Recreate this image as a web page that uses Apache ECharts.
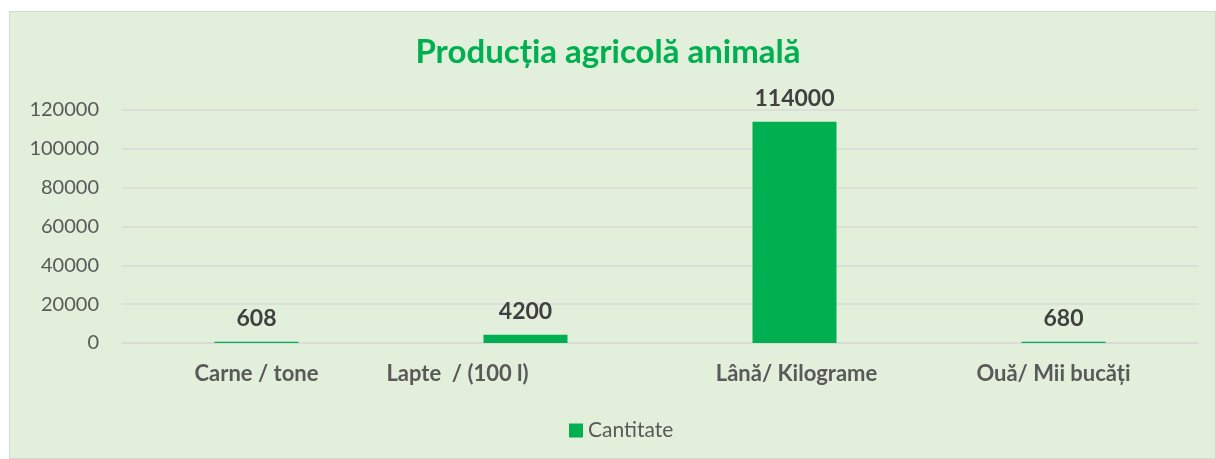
<!DOCTYPE html>
<html>
<head>
<meta charset="utf-8">
<script src="https://cdn.jsdelivr.net/npm/echarts@6/dist/echarts.min.js"></script>
<style>
  html, body { margin: 0; padding: 0; background: #ffffff; }
  #frame { position: absolute; left: 9px; top: 11px; width: 1207px; height: 448px;
           background: #e2efda; border: 1px solid #d4d9d0; box-sizing: border-box; }
  #chart { position: absolute; left: 0; top: 0; width: 1216px; height: 459px; }
</style>
</head>
<body>
<div id="frame"></div>
<div id="chart"></div>
<script>
// Animal farm output, one bar per product
const categories = ['Carne / tone', 'Lapte  / (100 l)', 'Lână/ Kilograme', 'Ouă/ Mii bucăți'];
const quantities = [608, 4200, 114000, 680];
const seriesName = 'Cantitate';
const chartTitle = 'Producția agricolă animală';
const yTicks = [0, 20000, 40000, 60000, 80000, 100000, 120000];

// horizontal nudges for category labels (px, negative = left)
const labelShift = [0, -68, 2, -10];

const font = 'Lato, "Noto Sans", sans-serif';
const chart = echarts.init(document.getElementById('chart'), null, { renderer: 'canvas' });

const rich = {};
labelShift.forEach((s, i) => {
  rich['c' + i] = {
    fontFamily: font, fontWeight: 'bold', fontSize: 22, color: '#595959',
    padding: s < 0 ? [0, -2 * s, 0, 0] : [0, 0, 0, 2 * s]
  };
});

chart.setOption({
  backgroundColor: 'transparent',
  animation: false,
  title: {
    text: chartTitle,
    left: 'center',
    top: 31,
    textStyle: { fontFamily: font, fontWeight: 'bold', fontSize: 33, color: '#00b050' }
  },
  legend: {
    data: [seriesName],
    left: 569,
    top: 420,
    padding: 0,
    icon: 'rect',
    itemWidth: 14,
    itemHeight: 14,
    itemGap: 10,
    textStyle: { fontFamily: font, fontSize: 21, color: '#595959' }
  },
  grid: { left: 122, right: 18, top: 110, bottom: 116, containLabel: false },
  xAxis: {
    type: 'category',
    data: categories,
    axisLine: { show: true, lineStyle: { color: '#d9d9d9', width: 1.5 } },
    axisTick: { show: false },
    axisLabel: {
      margin: 20,
      interval: 0,
      formatter: (v, i) => '{c' + i + '|' + v + '}',
      rich: rich
    }
  },
  yAxis: {
    type: 'value',
    min: yTicks[0],
    max: yTicks[yTicks.length - 1],
    interval: yTicks[1] - yTicks[0],
    axisLine: { show: false },
    axisTick: { show: false },
    splitLine: { lineStyle: { color: '#d9d9d9', width: 1.5 } },
    axisLabel: {
      fontFamily: font, fontSize: 20, color: '#595959', margin: 23,
      formatter: v => String(v)
    }
  },
  series: [{
    name: seriesName,
    type: 'bar',
    data: quantities,
    barWidth: 84,
    itemStyle: { color: '#00b050' },
    label: {
      show: true,
      position: 'top',
      distance: 12,
      fontFamily: font,
      fontWeight: 'bold',
      fontSize: 23,
      color: '#404040'
    }
  }]
});
</script>
</body>
</html>
